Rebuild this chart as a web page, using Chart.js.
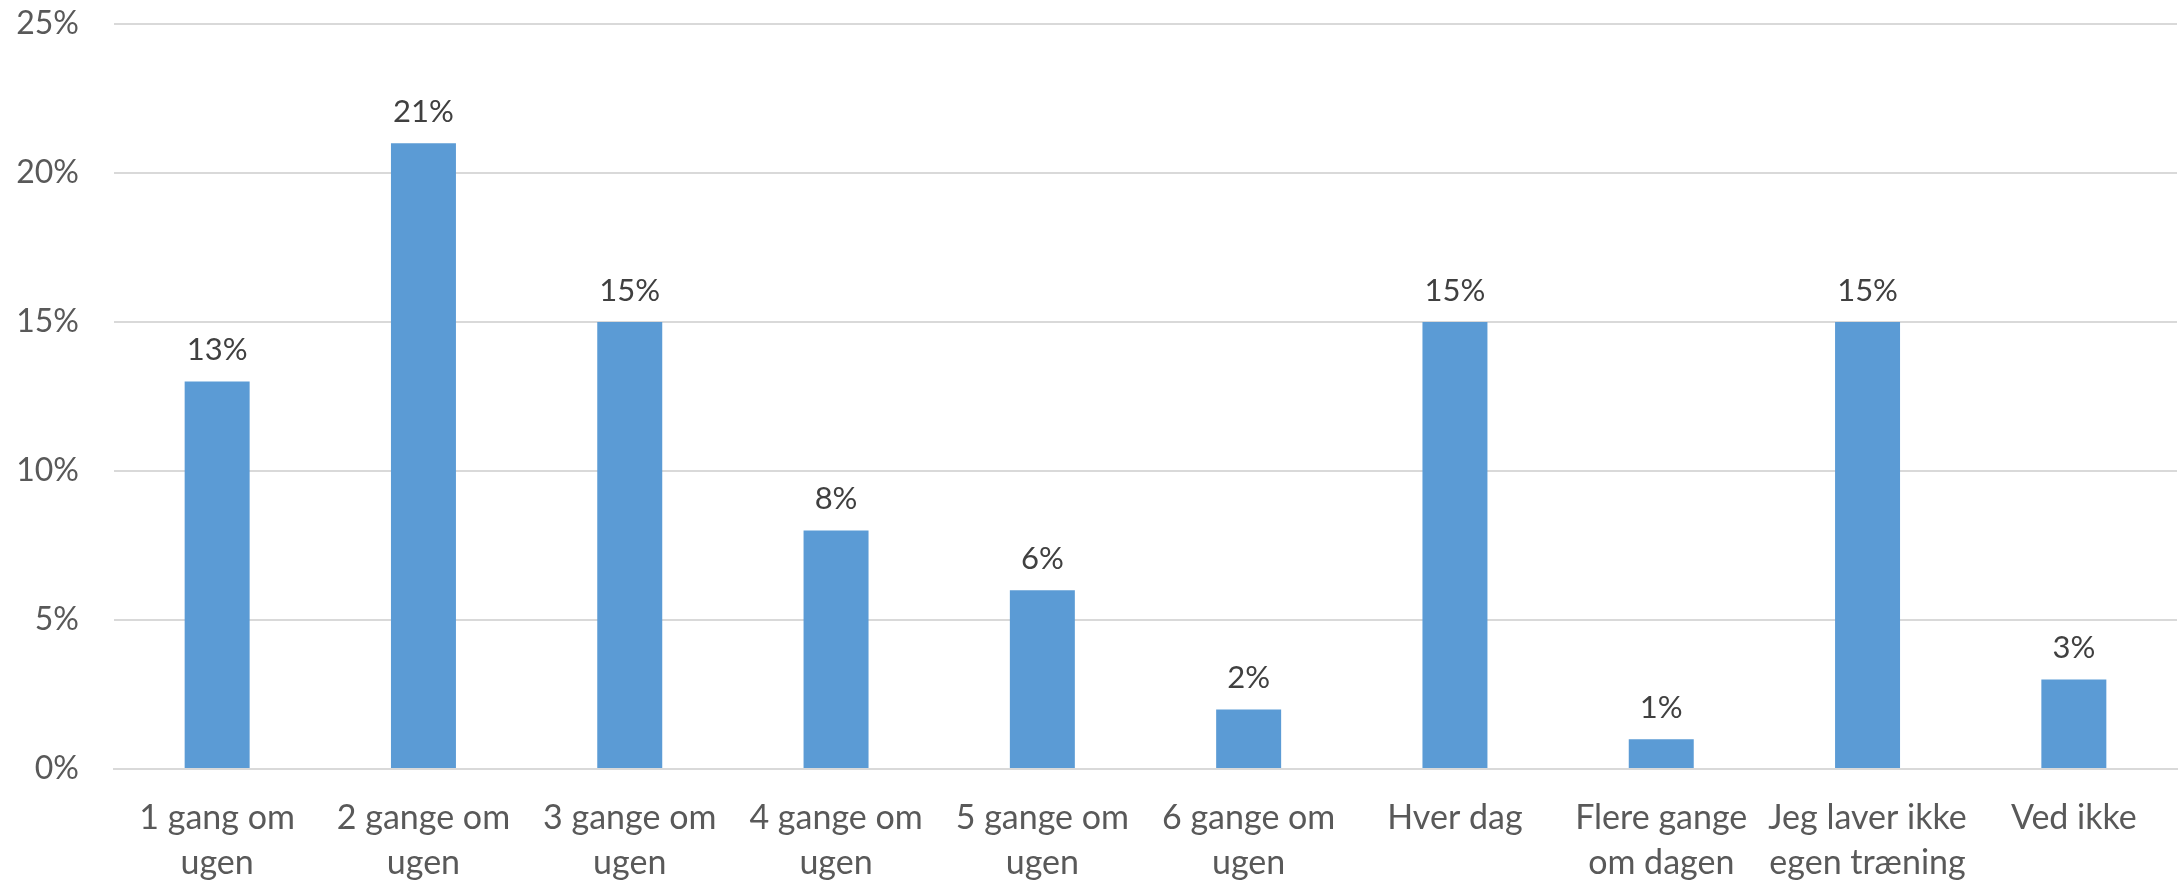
<!DOCTYPE html>
<html>
<head>
<meta charset="utf-8">
<script src="https://cdn.jsdelivr.net/npm/chart.js@4"></script>
<style>
  html, body { margin: 0; padding: 0; background: #fff; }
  #wrap { width: 2183px; height: 882px; }
</style>
</head>
<body>
<div id="wrap"><canvas id="barChart" width="2183" height="882"></canvas></div>
<script>
// categories (two-line labels) and percentages
const categories = [
  ["1 gang om", "ugen"],
  ["2 gange om", "ugen"],
  ["3 gange om", "ugen"],
  ["4 gange om", "ugen"],
  ["5 gange om", "ugen"],
  ["6 gange om", "ugen"],
  "Hver dag",
  ["Flere gange", "om dagen"],
  ["Jeg laver ikke", "egen træning"],
  "Ved ikke",
];
const values = [13, 21, 15, 8, 6, 2, 15, 1, 15, 3];
const yTicks = [0, 5, 10, 15, 20, 25];

const FONT = "Lato, 'Open Sans', sans-serif";

// draw the value above each bar
const valueLabels = {
  id: "valueLabels",
  afterDatasetsDraw(chart) {
    const ctx = chart.ctx;
    const meta = chart.getDatasetMeta(0);
    ctx.save();
    ctx.font = "31px " + FONT;
    ctx.fillStyle = "#404040";
    ctx.textAlign = "center";
    ctx.textBaseline = "bottom";
    meta.data.forEach(function (bar, i) {
      ctx.fillText(values[i] + "%", bar.x, bar.y - 16);
    });
    ctx.restore();
  },
};

new Chart(document.getElementById("barChart").getContext("2d"), {
  type: "bar",
  data: {
    labels: categories,
    datasets: [
      {
        data: values,
        backgroundColor: "#5B9BD5",
        borderWidth: 0,
        categoryPercentage: 1,
        barPercentage: 0.315,
      },
    ],
  },
  options: {
    responsive: false,
    animation: false,
    layout: { padding: { top: 24, right: 6, left: 0, bottom: 0 } },
    plugins: {
      legend: { display: false },
      tooltip: { enabled: false },
    },
    scales: {
      x: {
        grid: { display: false, drawTicks: false },
        border: { color: "#D9D9D9", width: 2 },
        ticks: {
          color: "#595959",
          font: { family: FONT, size: 34, lineHeight: 1.32 },
          padding: 27,
          maxRotation: 0,
          autoSkip: false,
        },
        afterFit(scale) { scale.height = 113; },
      },
      y: {
        min: 0,
        max: 25,
        afterBuildTicks(scale) {
          scale.ticks = yTicks.map(function (v) { return { value: v }; });
        },
        grid: { color: "#D9D9D9", lineWidth: 2, drawTicks: false },
        border: { display: false },
        ticks: {
          color: "#595959",
          font: { family: FONT, size: 32 },
          padding: 35,
          callback: function (v) { return v + "%"; },
        },
        afterFit(scale) {
          scale.width = 114;
          scale.paddingTop = 0;
          scale.paddingBottom = 0;
        },
      },
    },
  },
  plugins: [valueLabels],
});
</script>
</body>
</html>
